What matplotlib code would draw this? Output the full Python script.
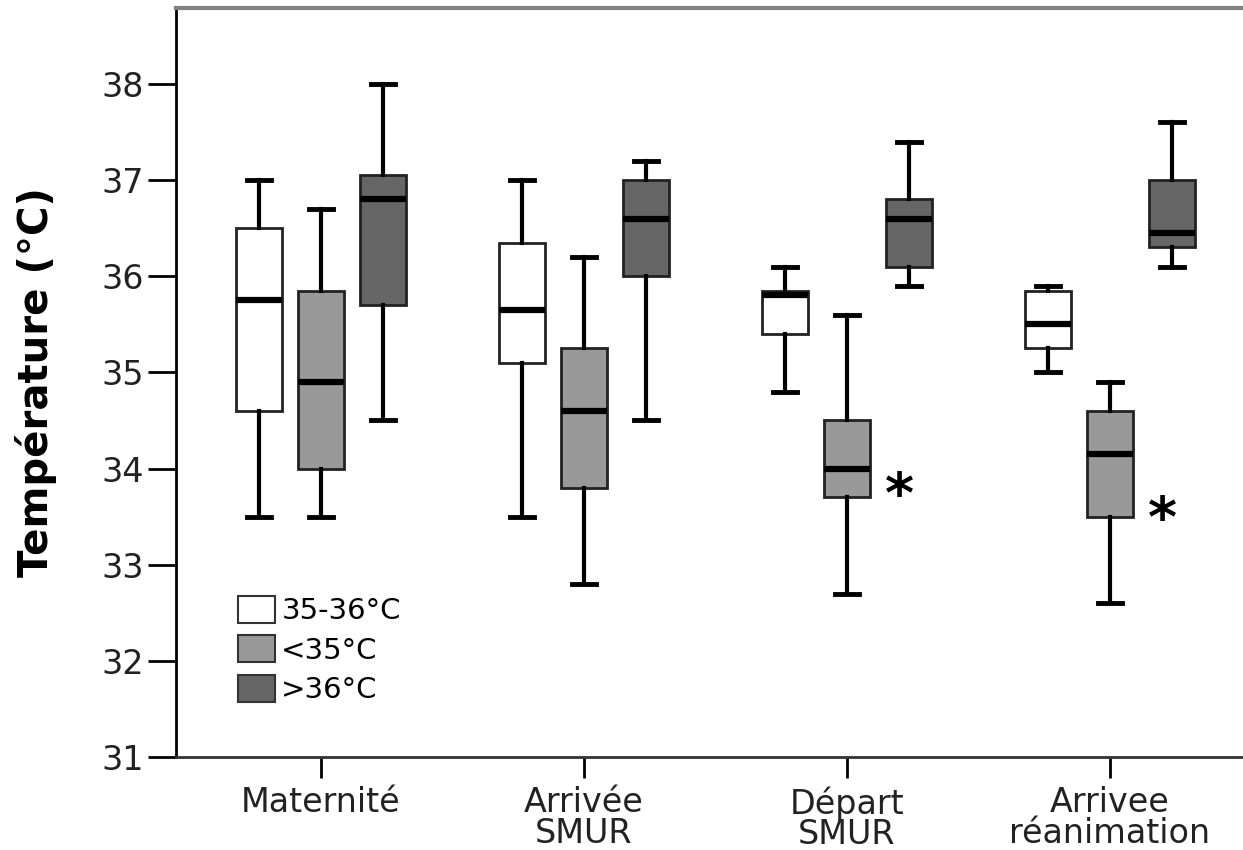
import matplotlib.pyplot as plt
from matplotlib.patches import Patch

plt.rcParams['font.family'] = ['DejaVu Sans']

categories = ['Maternité', 'Arrivée\nSMUR', 'Départ\nSMUR', 'Arrivee\nréanimation']
groups = ['35-36°C', '<35°C', '>36°C']
colors = ['#ffffff', '#999999', '#666666']

# per group: one value per category (whislo, q1, med, q3, whishi)
whislo = {'35-36°C': [33.5, 33.5, 34.8, 35.0],
          '<35°C':   [33.5, 32.8, 32.7, 32.6],
          '>36°C':   [34.5, 34.5, 35.9, 36.1]}
q1 = {'35-36°C': [34.6, 35.1, 35.4, 35.25],
      '<35°C':   [34.0, 33.8, 33.7, 33.5],
      '>36°C':   [35.7, 36.0, 36.1, 36.3]}
med = {'35-36°C': [35.75, 35.65, 35.8, 35.5],
       '<35°C':   [34.9, 34.6, 34.0, 34.15],
       '>36°C':   [36.8, 36.6, 36.6, 36.45]}
q3 = {'35-36°C': [36.5, 36.35, 35.85, 35.85],
      '<35°C':   [35.85, 35.25, 34.5, 34.6],
      '>36°C':   [37.05, 37.0, 36.8, 37.0]}
whishi = {'35-36°C': [37.0, 37.0, 36.1, 35.9],
          '<35°C':   [36.7, 36.2, 35.6, 34.9],
          '>36°C':   [38.0, 37.2, 37.4, 37.6]}

# significance stars: (category index, y value)
stars = [(2, 33.7), (3, 33.45)]

fig = plt.figure(figsize=(12.43, 8.5), dpi=100)
ax = fig.add_axes([0.1416, 0.1094, 0.8584, 0.8812])

offsets = [-0.235, 0.0, 0.235]
for g, name in enumerate(groups):
    stats = []
    for i in range(len(categories)):
        stats.append(dict(whislo=whislo[name][i], q1=q1[name][i], med=med[name][i],
                          q3=q3[name][i], whishi=whishi[name][i], fliers=[]))
    pos = [i + offsets[g] for i in range(len(categories))]
    ax.bxp(stats, positions=pos, widths=0.175, capwidths=0.09, patch_artist=True,
           showfliers=False,
           boxprops=dict(facecolor=colors[g], edgecolor='#222222', linewidth=2),
           medianprops=dict(color='black', linewidth=4.5, solid_capstyle='butt'),
           whiskerprops=dict(color='black', linewidth=3),
           capprops=dict(color='black', linewidth=3.5))

for i, y in stars:
    ax.text(i + 0.2, y, '*', fontsize=40, fontweight='bold', ha='center', va='center')

ax.set_xlim(-0.551, 3.506)
ax.set_ylim(31, 38.79)
ax.set_yticks([31, 32, 33, 34, 35, 36, 37, 38])
ax.set_xticks(range(len(categories)))
ax.set_xticklabels(categories, fontsize=24, color='#222222', linespacing=0.9)
ax.tick_params(axis='y', labelsize=24, labelcolor='#222222', length=20, width=2, pad=3)
ax.tick_params(axis='x', length=15, width=2, pad=6)
ax.set_ylabel('Température (°C)', fontsize=29, fontweight='bold', labelpad=32)

ax.spines['right'].set_visible(False)
ax.spines['top'].set_color('#808080')
ax.spines['top'].set_linewidth(3)
ax.spines['left'].set_linewidth(2)
ax.spines['bottom'].set_linewidth(2)
ax.spines['bottom'].set_color('#333333')

handles = [Patch(facecolor=c, edgecolor='#333333', linewidth=1.5) for c in colors]
ax.legend(handles, groups, loc='upper left', bbox_to_anchor=(0.044, 0.235), frameon=False,
          fontsize=21, handlelength=1.3, handleheight=1.05, handletextpad=0.2,
          labelspacing=0.35, borderpad=0)

fig.savefig('out.png', dpi=100)
